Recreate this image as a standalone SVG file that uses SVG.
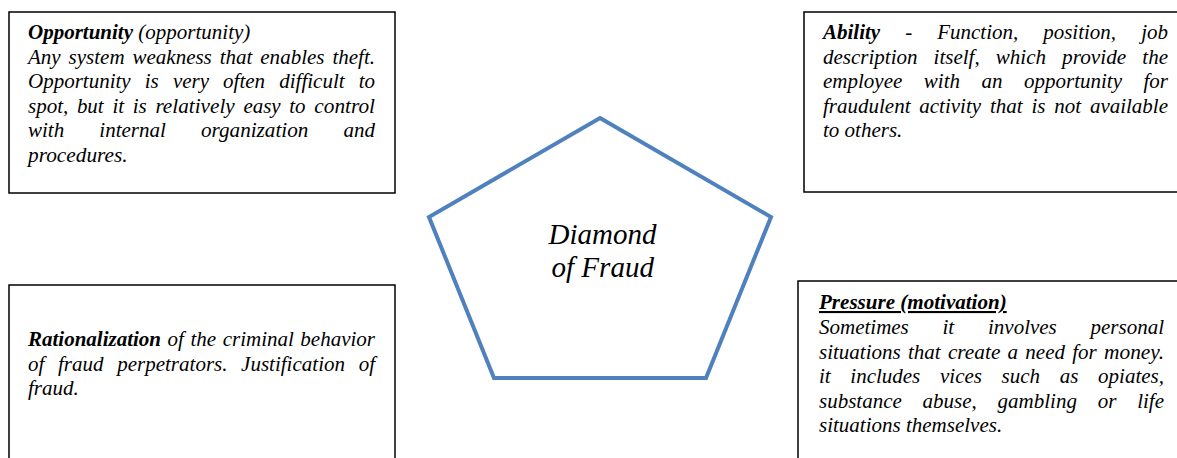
<svg xmlns="http://www.w3.org/2000/svg" width="1177" height="458" viewBox="0 0 1177 458">
<style>
.box{fill:#fff;stroke:#000;stroke-width:1.5}
.w{font-family:'Liberation Serif',serif;font-style:italic;font-size:21px;fill:#000}
.b{font-weight:bold}
.c{font-family:'Liberation Serif',serif;font-style:italic;font-size:29px;fill:#000}
</style>
<rect width="1177" height="458" fill="#fff"/>
<g id="center">
<polygon points="600,118 771,217 706,378 494,378 429,217" fill="#fff" stroke="#4f81bd" stroke-width="4"/>
<text class="c" x="548.5" y="244" textLength="108" lengthAdjust="spacingAndGlyphs">Diamond</text>
<text class="c" x="551.5" y="277" textLength="102.5" lengthAdjust="spacingAndGlyphs">of Fraud</text>
</g>
<g id="opportunity">
<rect class="box" x="9" y="12" width="386" height="181"/>
<text class="w b" x="28" y="39" textLength="105" lengthAdjust="spacingAndGlyphs">Opportunity</text>
<text class="w" x="138.3" y="39" textLength="112" lengthAdjust="spacingAndGlyphs">(opportunity)</text>
<text class="w" x="28" y="63.5" textLength="32.7" lengthAdjust="spacingAndGlyphs">Any</text>
<text class="w" x="68.6" y="63.5" textLength="56" lengthAdjust="spacingAndGlyphs">system</text>
<text class="w" x="132.5" y="63.5" textLength="79.3" lengthAdjust="spacingAndGlyphs">weakness</text>
<text class="w" x="219.7" y="63.5" textLength="32.7" lengthAdjust="spacingAndGlyphs">that</text>
<text class="w" x="260.3" y="63.5" textLength="64.2" lengthAdjust="spacingAndGlyphs">enables</text>
<text class="w" x="332.4" y="63.5" textLength="42.6" lengthAdjust="spacingAndGlyphs">theft.</text>
<text class="w" x="28" y="88" textLength="102.7" lengthAdjust="spacingAndGlyphs">Opportunity</text>
<text class="w" x="144.8" y="88" textLength="14" lengthAdjust="spacingAndGlyphs">is</text>
<text class="w" x="172.9" y="88" textLength="36.1" lengthAdjust="spacingAndGlyphs">very</text>
<text class="w" x="223.1" y="88" textLength="42" lengthAdjust="spacingAndGlyphs">often</text>
<text class="w" x="279.2" y="88" textLength="65.4" lengthAdjust="spacingAndGlyphs">difficult</text>
<text class="w" x="358.7" y="88" textLength="16.3" lengthAdjust="spacingAndGlyphs">to</text>
<text class="w" x="28" y="112.5" textLength="40.3" lengthAdjust="spacingAndGlyphs">spot,</text>
<text class="w" x="76.9" y="112.5" textLength="26.8" lengthAdjust="spacingAndGlyphs">but</text>
<text class="w" x="112.4" y="112.5" textLength="11.7" lengthAdjust="spacingAndGlyphs">it</text>
<text class="w" x="132.7" y="112.5" textLength="14" lengthAdjust="spacingAndGlyphs">is</text>
<text class="w" x="155.4" y="112.5" textLength="79.3" lengthAdjust="spacingAndGlyphs">relatively</text>
<text class="w" x="243.4" y="112.5" textLength="37.3" lengthAdjust="spacingAndGlyphs">easy</text>
<text class="w" x="289.3" y="112.5" textLength="16.3" lengthAdjust="spacingAndGlyphs">to</text>
<text class="w" x="314.3" y="112.5" textLength="60.7" lengthAdjust="spacingAndGlyphs">control</text>
<text class="w" x="28" y="137" textLength="36.2" lengthAdjust="spacingAndGlyphs">with</text>
<text class="w" x="99.3" y="137" textLength="66.5" lengthAdjust="spacingAndGlyphs">internal</text>
<text class="w" x="201" y="137" textLength="107.3" lengthAdjust="spacingAndGlyphs">organization</text>
<text class="w" x="343.5" y="137" textLength="31.5" lengthAdjust="spacingAndGlyphs">and</text>
<text class="w" x="28" y="161.5" textLength="99.7" lengthAdjust="spacingAndGlyphs">procedures.</text>
</g>
<g id="ability">
<rect class="box" x="804" y="12" width="390" height="180"/>
<text class="w b" x="823" y="39" textLength="57.2" lengthAdjust="spacingAndGlyphs">Ability</text>
<text class="w" x="905.2" y="39" textLength="7" lengthAdjust="spacingAndGlyphs">-</text>
<text class="w" x="937.2" y="39" textLength="81.1" lengthAdjust="spacingAndGlyphs">Function,</text>
<text class="w" x="1043.2" y="39" textLength="72.9" lengthAdjust="spacingAndGlyphs">position,</text>
<text class="w" x="1141.2" y="39" textLength="26.8" lengthAdjust="spacingAndGlyphs">job</text>
<text class="w" x="823" y="63.5" textLength="94.5" lengthAdjust="spacingAndGlyphs">description</text>
<text class="w" x="933.6" y="63.5" textLength="46.1" lengthAdjust="spacingAndGlyphs">itself,</text>
<text class="w" x="995.8" y="63.5" textLength="50.2" lengthAdjust="spacingAndGlyphs">which</text>
<text class="w" x="1062.1" y="63.5" textLength="64.2" lengthAdjust="spacingAndGlyphs">provide</text>
<text class="w" x="1142.3" y="63.5" textLength="25.7" lengthAdjust="spacingAndGlyphs">the</text>
<text class="w" x="823" y="88" textLength="79.3" lengthAdjust="spacingAndGlyphs">employee</text>
<text class="w" x="923.8" y="88" textLength="36.2" lengthAdjust="spacingAndGlyphs">with</text>
<text class="w" x="981.5" y="88" textLength="21" lengthAdjust="spacingAndGlyphs">an</text>
<text class="w" x="1024" y="88" textLength="98" lengthAdjust="spacingAndGlyphs">opportunity</text>
<text class="w" x="1143.5" y="88" textLength="24.5" lengthAdjust="spacingAndGlyphs">for</text>
<text class="w" x="823" y="112.5" textLength="87.5" lengthAdjust="spacingAndGlyphs">fraudulent</text>
<text class="w" x="919.3" y="112.5" textLength="61.8" lengthAdjust="spacingAndGlyphs">activity</text>
<text class="w" x="989.9" y="112.5" textLength="32.7" lengthAdjust="spacingAndGlyphs">that</text>
<text class="w" x="1031.4" y="112.5" textLength="14" lengthAdjust="spacingAndGlyphs">is</text>
<text class="w" x="1054.2" y="112.5" textLength="26.8" lengthAdjust="spacingAndGlyphs">not</text>
<text class="w" x="1089.9" y="112.5" textLength="78.1" lengthAdjust="spacingAndGlyphs">available</text>
<text class="w" x="823" y="137" textLength="79.3" lengthAdjust="spacingAndGlyphs">to others.</text>
</g>
<g id="rationalization">
<rect class="box" x="9" y="285" width="386" height="200"/>
<text class="w b" x="28" y="346" textLength="133" lengthAdjust="spacingAndGlyphs">Rationalization</text>
<text class="w" x="167.6" y="346" textLength="16.3" lengthAdjust="spacingAndGlyphs">of</text>
<text class="w" x="190.5" y="346" textLength="25.7" lengthAdjust="spacingAndGlyphs">the</text>
<text class="w" x="222.7" y="346" textLength="71.2" lengthAdjust="spacingAndGlyphs">criminal</text>
<text class="w" x="300.3" y="346" textLength="74.7" lengthAdjust="spacingAndGlyphs">behavior</text>
<text class="w" x="28" y="370.5" textLength="16.3" lengthAdjust="spacingAndGlyphs">of</text>
<text class="w" x="58" y="370.5" textLength="45.5" lengthAdjust="spacingAndGlyphs">fraud</text>
<text class="w" x="117.2" y="370.5" textLength="110.3" lengthAdjust="spacingAndGlyphs">perpetrators.</text>
<text class="w" x="241.1" y="370.5" textLength="103.9" lengthAdjust="spacingAndGlyphs">Justification</text>
<text class="w" x="358.7" y="370.5" textLength="16.3" lengthAdjust="spacingAndGlyphs">of</text>
<text class="w" x="28" y="395" textLength="50.8" lengthAdjust="spacingAndGlyphs">fraud.</text>
</g>
<g id="pressure">
<rect class="box" x="798" y="281" width="400" height="200"/>
<text class="w b" x="819" y="309" textLength="187.7" lengthAdjust="spacingAndGlyphs" text-decoration="underline">Pressure (motivation)</text>
<text class="w" x="819" y="334" textLength="89.8" lengthAdjust="spacingAndGlyphs">Sometimes</text>
<text class="w" x="942.5" y="334" textLength="11.7" lengthAdjust="spacingAndGlyphs">it</text>
<text class="w" x="988" y="334" textLength="68.8" lengthAdjust="spacingAndGlyphs">involves</text>
<text class="w" x="1090.5" y="334" textLength="73.5" lengthAdjust="spacingAndGlyphs">personal</text>
<text class="w" x="819" y="358.5" textLength="81.7" lengthAdjust="spacingAndGlyphs">situations</text>
<text class="w" x="907.9" y="358.5" textLength="32.7" lengthAdjust="spacingAndGlyphs">that</text>
<text class="w" x="947.9" y="358.5" textLength="52.5" lengthAdjust="spacingAndGlyphs">create</text>
<text class="w" x="1007.6" y="358.5" textLength="10.5" lengthAdjust="spacingAndGlyphs">a</text>
<text class="w" x="1025.3" y="358.5" textLength="39.7" lengthAdjust="spacingAndGlyphs">need</text>
<text class="w" x="1072.2" y="358.5" textLength="24.5" lengthAdjust="spacingAndGlyphs">for</text>
<text class="w" x="1104" y="358.5" textLength="60" lengthAdjust="spacingAndGlyphs">money.</text>
<text class="w" x="819" y="383" textLength="11.7" lengthAdjust="spacingAndGlyphs">it</text>
<text class="w" x="850.3" y="383" textLength="70" lengthAdjust="spacingAndGlyphs">includes</text>
<text class="w" x="940" y="383" textLength="42" lengthAdjust="spacingAndGlyphs">vices</text>
<text class="w" x="1001.6" y="383" textLength="38.5" lengthAdjust="spacingAndGlyphs">such</text>
<text class="w" x="1059.7" y="383" textLength="18.7" lengthAdjust="spacingAndGlyphs">as</text>
<text class="w" x="1098.1" y="383" textLength="65.9" lengthAdjust="spacingAndGlyphs">opiates,</text>
<text class="w" x="819" y="407.5" textLength="82.8" lengthAdjust="spacingAndGlyphs">substance</text>
<text class="w" x="922.6" y="407.5" textLength="54.2" lengthAdjust="spacingAndGlyphs">abuse,</text>
<text class="w" x="997.6" y="407.5" textLength="79.3" lengthAdjust="spacingAndGlyphs">gambling</text>
<text class="w" x="1097.7" y="407.5" textLength="18.7" lengthAdjust="spacingAndGlyphs">or</text>
<text class="w" x="1137.2" y="407.5" textLength="26.8" lengthAdjust="spacingAndGlyphs">life</text>
<text class="w" x="819" y="432" textLength="183.2" lengthAdjust="spacingAndGlyphs">situations themselves.</text>
</g>
<g id="connectors"/>
</svg>
